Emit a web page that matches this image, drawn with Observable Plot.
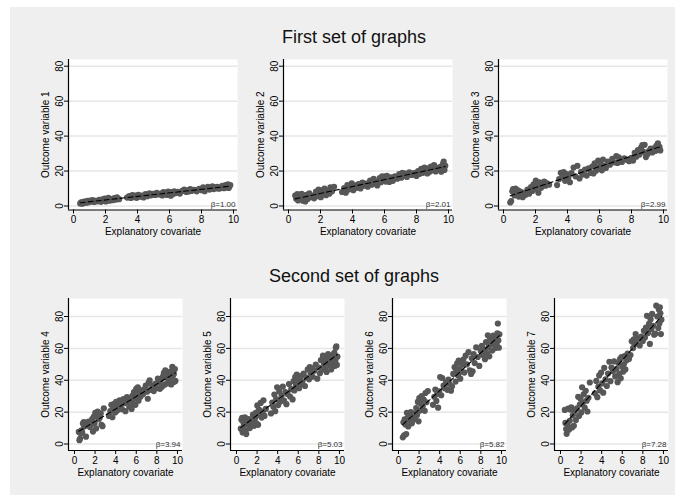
<!DOCTYPE html>
<html>
<head>
<meta charset="utf-8">
<script src="https://cdn.jsdelivr.net/npm/d3@7"></script>
<script src="https://cdn.jsdelivr.net/npm/@observablehq/plot@0.6"></script>
<style>
  body { margin: 0; background: #ffffff; }
  #root { position: relative; width: 683px; height: 502px; overflow: hidden; font-family: "Liberation Sans", Arial, sans-serif; }
  .bg { position: absolute; left: 10px; top: 7px; width: 665px; height: 488px; background: #efefef; }
  .title { position: absolute; left: 0; width: 708px; text-align: center; font-size: 18px; line-height: 18px; color: #111; }
</style>
</head>
<body>
<div id="root">
  <div class="bg"></div>
  <div class="title" style="top:28px">First set of graphs</div>
  <div class="title" style="top:267px">Second set of graphs</div>
</div>
<script>
// Shared explanatory covariate
const xv = [0.42,0.48,0.55,0.60,0.68,0.75,0.82,0.90,0.95,1.05,1.12,1.20,1.30,1.38,1.50,1.60,1.72,1.80,1.88,1.95,2.02,2.10,2.18,2.25,2.35,2.45,2.55,2.62,2.72,2.85,
3.35,3.48,3.58,3.68,3.76,3.85,3.95,4.05,4.15,4.25,4.38,4.50,4.62,4.75,4.85,4.95,5.10,5.20,5.32,5.45,5.55,5.62,5.70,5.78,5.85,5.92,6.00,6.08,6.15,6.22,6.30,6.40,6.52,6.65,6.80,6.92,7.05,7.12,7.20,7.30,7.40,7.55,7.70,7.85,8.00,8.10,8.20,8.30,8.40,8.50,8.60,8.68,8.75,8.82,8.90,9.00,9.10,9.20,9.30,9.40,9.50,9.55,9.60,9.65,9.70,9.75,9.80];

const y1 = [1.5,2.1,1.3,2.4,1.8,2.6,1.9,2.9,2.2,3.1,2.5,3.4,2.3,3.0,2.7,3.5,2.4,3.8,2.9,4.3,2.6,3.7,4.6,3.0,4.0,3.3,4.5,3.6,4.9,3.9,
4.8,5.6,4.6,6.2,5.0,5.9,4.7,6.4,5.3,6.0,4.9,6.8,5.6,7.2,6.1,7.0,6.3,7.5,6.6,7.1,6.0,8.0,6.8,7.6,6.3,8.3,7.0,5.9,7.9,6.8,8.4,7.4,8.1,7.1,8.6,9.4,8.0,9.0,8.3,9.6,8.7,9.2,8.4,9.8,9.0,10.6,8.5,9.8,10.9,9.4,10.2,11.2,9.7,10.8,10.0,11.0,9.9,10.4,11.5,10.2,12.0,10.6,11.8,12.4,10.3,11.3,12.0];

const y2 = [6.0,4.2,6.8,3.2,5.5,4.6,7.0,3.0,5.2,2.6,6.4,4.0,7.2,5.0,6.0,4.4,8.2,5.6,9.4,6.8,5.0,9.0,7.4,10.0,6.2,8.6,7.0,10.6,8.4,11.0,
8.0,10.2,7.6,12.0,9.4,11.4,13.0,9.0,11.8,10.4,12.6,10.0,13.4,11.6,12.8,11.0,14.6,12.2,15.6,13.0,11.8,14.2,16.0,13.6,17.0,15.0,16.8,14.0,17.2,15.8,13.8,16.4,14.4,17.0,15.6,18.2,16.2,19.0,17.4,18.6,16.6,19.2,17.8,18.8,17.2,20.0,18.4,21.2,19.0,22.0,20.4,18.6,21.6,19.6,22.6,20.4,23.4,19.8,21.8,20.8,22.4,19.6,21.2,24.0,25.4,20.6,23.0];

const y3 = [2.0,2.8,8.4,9.6,6.0,10.0,7.2,9.0,5.4,8.2,6.0,5.0,7.6,6.4,9.4,7.0,10.8,8.6,12.4,9.8,14.6,11.2,7.6,13.6,10.4,12.8,14.0,11.6,13.0,12.2,
12.0,15.4,19.0,16.6,19.4,14.4,18.2,16.0,13.6,18.8,22.0,17.0,23.0,15.8,19.6,18.0,20.8,17.4,21.6,19.0,22.6,18.6,24.4,20.2,22.0,26.0,21.2,24.0,20.4,26.6,22.8,21.8,25.4,23.6,27.0,25.0,28.6,24.6,27.8,26.2,25.2,27.2,26.4,25.6,27.6,26.0,30.4,28.2,32.0,29.4,33.4,34.8,31.0,35.0,28.0,29.6,31.6,32.8,30.6,33.0,31.6,34.4,32.0,35.8,32.4,33.8,31.8];

const y4 = [7.6,2.4,3.4,6.8,8.6,7.2,12.8,13.8,11.0,12.2,4.6,13.4,11.8,14.0,10.6,12.4,15.6,7.8,17.2,13.0,19.6,9.8,18.0,20.4,15.6,16.4,19.2,12.0,11.2,22.4,
17.6,20.6,24.6,16.8,22.8,25.2,19.8,26.4,21.0,23.8,27.4,24.6,21.8,28.2,25.6,20.6,29.4,26.6,23.4,27.8,22.0,30.2,25.0,32.6,28.4,24.6,34.6,30.4,35.6,27.2,32.0,29.6,33.6,31.2,34.4,36.6,32.8,28.4,38.4,40.0,34.0,36.6,33.2,37.8,35.0,41.0,38.6,34.6,40.4,36.0,42.4,44.6,37.2,46.2,41.8,38.0,43.6,40.8,45.4,37.4,48.4,42.8,46.4,44.0,39.0,47.0,39.6];

const y5 = [9.6,15.2,16.4,7.2,13.4,11.6,16.8,8.4,6.2,14.0,12.6,15.6,10.0,14.8,13.2,18.4,11.4,16.2,19.6,13.0,24.2,12.0,21.6,18.0,25.8,16.6,20.4,27.4,17.6,22.0,
19.2,26.0,23.4,31.0,20.6,28.2,35.6,24.4,33.0,26.6,30.2,36.0,27.2,32.6,25.0,31.4,37.6,29.8,34.4,28.0,39.4,33.6,42.0,36.8,43.6,38.4,41.4,35.0,40.2,37.2,42.8,39.0,44.2,36.4,41.6,46.8,40.6,48.2,44.6,47.4,42.2,46.0,49.8,41.0,48.0,44.4,52.6,46.6,55.4,50.2,47.0,53.6,45.2,51.0,56.4,49.4,53.0,46.8,55.6,50.6,57.2,49.0,52.4,60.4,61.2,49.6,54.8];

const y6 = [4.2,13.6,5.4,15.4,12.2,6.2,19.6,16.4,11.0,18.8,14.8,20.0,13.0,17.2,19.0,15.6,22.6,18.2,26.4,14.2,28.8,21.0,25.2,30.0,23.6,27.8,20.8,32.0,26.2,33.2,
24.6,29.6,34.2,27.0,31.4,22.8,33.0,42.0,30.6,41.4,36.6,35.0,38.8,34.0,40.4,37.8,33.4,36.2,44.0,48.2,39.2,46.4,50.6,43.2,52.4,47.0,41.0,51.2,45.4,49.8,53.0,44.8,55.4,50.0,57.6,46.2,44.0,53.8,45.6,56.4,50.8,60.6,54.6,49.0,58.4,61.6,55.8,59.4,53.2,64.0,57.0,68.2,60.8,55.0,66.4,62.8,58.6,68.0,64.6,60.2,67.2,62.0,69.4,75.6,65.0,60.4,68.8];

const y7 = [21.4,13.2,9.4,6.4,12.0,22.2,9.0,14.6,21.6,23.0,10.4,18.0,11.4,20.6,15.0,22.4,29.6,17.6,24.8,28.4,19.8,35.6,26.0,31.2,22.8,33.4,27.2,20.4,29.0,38.6,
31.8,39.6,29.4,36.0,43.0,33.6,44.8,38.0,32.2,47.8,40.6,36.4,44.2,51.6,39.4,48.0,45.6,51.8,42.4,47.2,38.8,50.8,44.0,53.2,41.2,54.6,48.6,45.4,50.0,55.2,46.8,52.4,56.8,53.4,55.8,64.4,60.2,65.6,62.6,69.0,63.4,66.2,61.8,67.4,64.6,71.0,66.8,73.0,80.4,69.6,75.4,62.8,78.2,72.0,81.6,74.2,68.6,69.2,86.8,80.0,72.8,84.4,75.6,85.8,82.0,69.0,78.0];

const outcomes = [y1, y2, y3, y4, y5, y6, y7];
const ylabels = ["Outcome variable 1","Outcome variable 2","Outcome variable 3","Outcome variable 4","Outcome variable 5","Outcome variable 6","Outcome variable 7"];
const betas = ["β=1.00","β=2.01","β=2.99","β=3.94","β=5.03","β=5.82","β=7.28"];
const xlabel = "Explanatory covariate";
const xticks = [0, 2, 4, 6, 8, 10];
const yticks = [0, 20, 40, 60, 80];

// layout (pixels) for each row
const rowTop = {pw: 169, ph: 150.5, top: 59, xd: [-0.3125, 10.25], yd: [-2.29, 83.83]};
const rowBot = {pw: 114, ph: 152, top: 298, xd: [-0.58, 10.49], yd: [-4.08, 91.3]};
const axesX = [68, 283, 498, 68, 230, 392, 554];

const root = document.getElementById("root");

function panel(k) {
  const cfg = k < 3 ? rowTop : rowBot;
  const ys = outcomes[k];
  const data = xv.map((x, i) => ({x, y: ys[i]}));
  const ML = 38, MR = 3, MT = 4, MB = 32;
  const W = ML + cfg.pw + MR, H = MT + cfg.ph + MB;
  const svg = Plot.plot({
    width: W, height: H,
    marginLeft: ML, marginRight: MR, marginTop: MT, marginBottom: MB,
    style: {background: "transparent", fontFamily: "'Liberation Sans', Arial, sans-serif", fontSize: "10px", color: "#000", overflow: "visible"},
    x: {domain: cfg.xd},
    y: {domain: cfg.yd},
    marks: [
      Plot.frame({fill: "#ffffff", stroke: null}),
      Plot.gridY(yticks, {stroke: "#e6e6e6", strokeOpacity: 1, strokeWidth: 1.5}),
      Plot.dot(data, {x: "x", y: "y", r: 3.1, fill: "#575757", stroke: "none"}),
      Plot.linearRegressionY(data, {x: "x", y: "y", ci: 0, stroke: "#000", strokeWidth: 1.1, strokeDasharray: "5,3"}),
      Plot.ruleX([cfg.xd[0]], {stroke: "#000", strokeWidth: 1.2}),
      Plot.ruleY([cfg.yd[0]], {stroke: "#000", strokeWidth: 1.2}),
      Plot.axisX({ticks: xticks, tickSize: 4, tickPadding: 2, label: null, fontSize: 10}),
      Plot.axisY({ticks: yticks, tickSize: 4, tickPadding: 2, tickRotate: -90, label: null, fontSize: 10}),
      Plot.text([ylabels[k]], {frameAnchor: "left", rotate: -90, dx: -23, textAnchor: "middle", lineAnchor: "middle", fontSize: 10}),
      Plot.text([xlabel], {frameAnchor: "bottom", dy: 22, textAnchor: "middle", lineAnchor: "middle", fontSize: 10}),
      Plot.text([betas[k]], {frameAnchor: "bottom-right", dx: -2, dy: -6, textAnchor: "end", lineAnchor: "middle", fontSize: 8, fill: "#333"})
    ]
  });
  svg.style.position = "absolute";
  svg.style.left = (axesX[k] - ML) + "px";
  svg.style.top = (cfg.top - MT) + "px";
  root.appendChild(svg);
}

for (let k = 0; k < 7; k++) panel(k);
</script>
</body>
</html>
